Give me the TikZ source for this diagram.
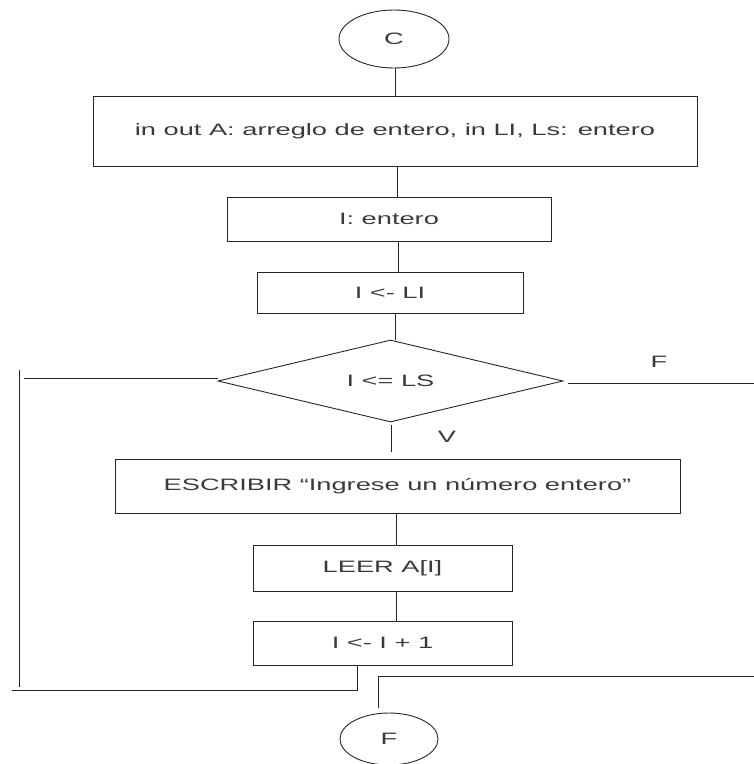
\documentclass[tikz,border=0pt]{standalone}
\usepackage{fontspec}
\setmainfont[FakeStretch=1.65]{Liberation Sans}
\usepackage{tikz}
\usetikzlibrary{positioning}
\usetikzlibrary{shapes.geometric}
\definecolor{trazo}{HTML}{262626}
\definecolor{letra}{HTML}{3A3A3A}
\tikzset{
    x=1pt, y=-1pt,
   caja/.style = {%
    shape=rectangle,
    draw=trazo,
    line width=0.9pt,
    inner sep=0pt,
    text=letra,
    font=\fontsize{16.5}{18}\selectfont},
 terminal/.style = {%
    caja,
    shape=ellipse},
 decision/.style = {%
    caja,
    shape=diamond,
    aspect=4},
 linea/.style = {%
    draw=trazo,
    line width=0.9pt},
 rotulo/.style = {%
    text=letra,
    inner sep=0pt,
    font=\fontsize{16.5}{18}\selectfont},
    }

\begin{document}
\begin{tikzpicture}
    \useasboundingbox (0,0) rectangle (754,764);
    \coordinate (eje) at (396,0);

    % inicio y bloques de datos
    \node[terminal, minimum width=110, minimum height=58] (C) at (394,39) {C};
    \node[caja, minimum width=604, minimum height=70] (datos) at (395,131)
        {in out A: arreglo de entero, in LI, Ls: entero};
    \node[caja, minimum width=324, minimum height=44] (decl) at (389,219) {I: entero};
    \node[caja, minimum width=266, minimum height=41] (init) at (390,292.5) {I <- LI};

    % condicion del ciclo
    \node[decision, minimum width=345, minimum height=82] (cond) at (390.5,381) {I <= LS};
    \node[rotulo] (lblF) at (659,362) {F};
    \node[rotulo] (lblV) at (447,437) {V};

    % cuerpo del ciclo
    \node[caja, minimum width=565, minimum height=54] (escribir) at (397.5,486)
        {ESCRIBIR “Ingrese un número entero”};
    \node[caja, minimum width=259, minimum height=46] (leer) at (382.5,568) {LEER A[I]};
    \node[caja, minimum width=259, minimum height=44] (incr) at (382.5,643) {I <- I + 1};

    % fin
    \node[terminal, minimum width=98, minimum height=52] (F) at (389,739) {F};

    % uniones verticales
    \draw[linea] (C.south -| 395,0) -- (datos.north -| 395,0);
    \draw[linea] (datos.south -| 397,0) -- (decl.north -| 397,0);
    \draw[linea] (decl.south -| 398,0) -- (init.north -| 398,0);
    \draw[linea] (init.south -| 395,0) -- (cond.north -| 395,0);
    \coordinate (bajaV) at (391,452);
    \draw[linea] ([yshift=-3]cond.south -| bajaV) -- (bajaV);
    \draw[linea] (escribir.south -| eje) -- (leer.north -| eje);
    \draw[linea] (leer.south -| eje) -- (incr.north -| eje);

    % salida por falso
    \coordinate (derA) at (754,383);
    \draw[linea] ([xshift=5]cond.east |- derA) -- (derA);

    % regreso a la condicion
    \coordinate (izqA) at (24,378);
    \coordinate (izqB) at (19,370);
    \coordinate (izqC) at (19,687);
    \coordinate (retA) at (357,690);
    \coordinate (retB) at (12,690);
    \draw[linea] (cond.west |- izqA) -- (izqA);
    \draw[linea] (izqB) -- (izqC);
    \draw[linea] (incr.south -| retA) -- (retA) -- (retB);

    % camino al fin
    \coordinate (finA) at (378,676);
    \coordinate (finB) at (754,676);
    \draw[linea] ([yshift=5]F.north -| finA) -- (finA) -- (finB);
\end{tikzpicture}
\end{document}
